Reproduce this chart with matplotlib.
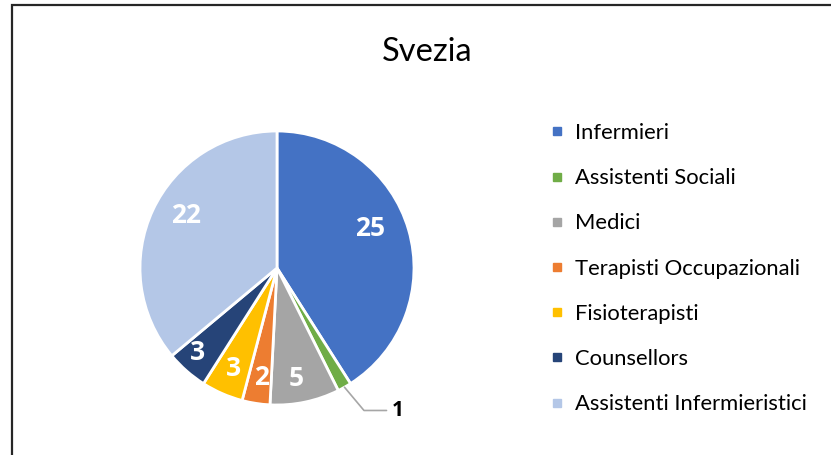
import numpy as np
import matplotlib.pyplot as plt
from matplotlib.lines import Line2D
from matplotlib.patches import Rectangle

# Dati
categorie = ["Infermieri", "Assistenti Sociali", "Medici", "Terapisti Occupazionali",
             "Fisioterapisti", "Counsellors", "Assistenti Infermieristici"]
valori = [25, 1, 5, 2, 3, 3, 22]
colori = ["#4472C4", "#70AD47", "#A5A5A5", "#ED7D31", "#FFC000", "#264478", "#B4C7E7"]

plt.rcParams['font.family'] = ['Lato', 'DejaVu Sans']

W, H = 831, 455
fig = plt.figure(figsize=(W/100, H/100), dpi=100)

# cornice del grafico
fig.patches.append(Rectangle((11.5/W, -0.1), 1.2, 1.1 - 5.5/H, transform=fig.transFigure,
                             fill=False, edgecolor='#262626', lw=1.6))

# asse della torta: centro (277,268) px, raggio 137 px
cx, cy, r = 277, 268, 137
half = 1.5 * r
ax = fig.add_axes([(cx - half)/W, (H - cy - half)/H, 2*half/W, 2*half/H])

wedges, _ = ax.pie(valori, colors=colori, startangle=90, counterclock=False,
                   radius=1, wedgeprops=dict(edgecolor='white', linewidth=2))

# etichette dei valori (posizione "best fit" stile Excel)
lab_font = ['Open Sans', 'DejaVu Sans']
dist = [0.74, 0, 0.82, 0.81, 0.80, 0.85, 0.77]
shift = [7, 0, -2, 1, 0, -2, -5]
for i, w in enumerate(wedges):
    ang = np.deg2rad((w.theta1 + w.theta2) / 2 + shift[i])
    if valori[i] == 1:
        px, py = np.cos(ang), np.sin(ang)
        ax.annotate(str(valori[i]), xy=(px, py), xytext=(0.84, -1.04),
                    fontsize=15, fontweight='bold', family=lab_font, color='black',
                    va='center', ha='left',
                    arrowprops=dict(arrowstyle='-', color='#A6A6A6', lw=1.2,
                                    shrinkA=2, shrinkB=0,
                                    connectionstyle='angle,angleA=0,angleB=-50,rad=0'),
                    annotation_clip=False)
    else:
        ax.text(dist[i]*np.cos(ang), dist[i]*np.sin(ang), str(valori[i]),
                ha='center', va='center', fontsize=19, fontweight='bold',
                family=lab_font, color='white')

ax.set_xlim(-1.5, 1.5)
ax.set_ylim(-1.5, 1.5)
ax.axis('off')

fig.text(427/W, 1 - 52/H, "Svezia", ha='center', va='center', fontsize=23.5, color='black')

handles = [Line2D([], [], marker='s', linestyle='none', markersize=6, color=c) for c in colori]
fig.legend(handles, categorie, loc='upper left', bbox_to_anchor=(549/W, 1 - 123/H),
           frameon=False, fontsize=15.8, handlelength=0.75, handletextpad=0.45,
           labelspacing=1.15, borderpad=0, borderaxespad=0)

plt.savefig("out.png", dpi=100)
